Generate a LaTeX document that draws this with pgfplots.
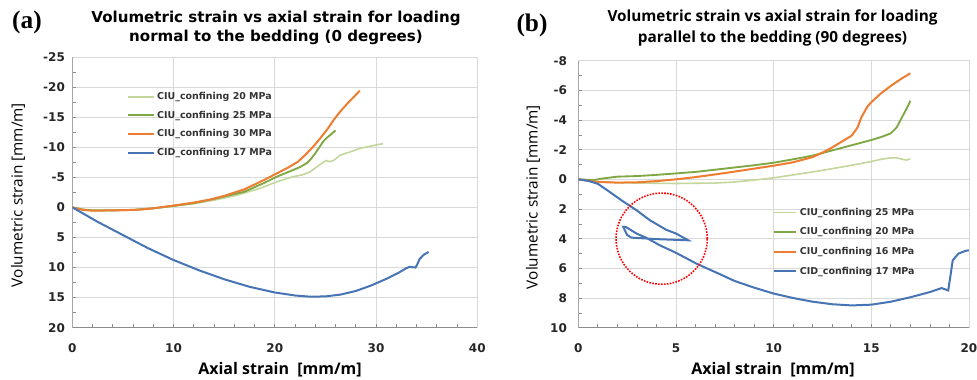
\documentclass[border=0pt]{standalone}
\usepackage{fontspec}
\setmainfont{Open Sans}
\newfontfamily\serifbf{Liberation Serif}
\newfontfamily\dejavu{DejaVu Sans}
\usepackage{pgfplots}
\pgfplotsset{compat=1.18}
\definecolor{cLG}{HTML}{C3D69B}
\definecolor{cG}{HTML}{7FA844}
\definecolor{cO}{HTML}{EE7D31}
\definecolor{cB}{HTML}{4674B4}
\definecolor{gridc}{HTML}{D9D9D9}
\definecolor{tickc}{HTML}{8C8C8C}
\pgfplotsset{
  mystyle/.style={
    scale only axis, anchor=south west, y dir=reverse,
    grid=major, major grid style={draw=gridc, line width=0.6pt},
    axis line style={draw=gridc, line width=0.6pt},
    tick align=inside, tick pos=left,
    tick style={draw=tickc, line width=0.5pt},
    major tick length=3pt, minor tick length=3pt,
    /pgf/number format/assume math mode=true,
    ticklabel style={font=\dejavu\bfseries\fontsize{9}{10}\selectfont, text=black!85},
    xticklabel style={yshift=-8.5pt},
    legend cell align=left,
    legend style={draw=none, fill=none, anchor=north west,
      font=\dejavu\bfseries\fontsize{7.1}{8}\selectfont, text=black!80,
      row sep=8pt, inner sep=0pt,
      nodes={inner sep=0pt, text height=5pt, text depth=1pt},
      /tikz/every odd column/.append style={column sep=2pt}},
  }
}
\begin{document}
\begin{tikzpicture}
\useasboundingbox (0,0) rectangle (732.75pt,284.25pt);
% panel (a)
\begin{axis}[mystyle, at={(54.2pt,38.5pt)}, width=303.75pt, height=203pt,
  xmin=0, xmax=40, ymin=-25, ymax=20,
  xtick={0,10,20,30,40}, xticklabels={0,10,20,30,40},
  ytick={-25,-20,-15,-10,-5,0,5,10,15,20},
  yticklabels={-25,-20,-15,-10,-5,0,5,10,15,20},
  yticklabel style={xshift=-2pt},
  minor x tick num=4, minor y tick num=1,
  legend style={at={(rel axis cs:0.135,0.869)}},
  legend image code/.code={\draw[#1] (0pt,0pt) -- (19pt,0pt);},
]
\addplot[cLG, line width=1.2pt] coordinates {(0,0)(1,0.35)(2,0.5)(4,0.5)(6,0.42)(8,0.2)(10,-0.2)(12,-0.6)(14,-1.2)(16,-1.9)(17,-2.4)(18.5,-3.15)(20.2,-4.25)(21.8,-5.1)(22.7,-5.4)(23.5,-5.9)(24.2,-6.8)(24.8,-7.5)(25.1,-7.8)(25.4,-7.6)(25.8,-7.8)(26.5,-8.7)(27.4,-9.2)(28.4,-9.8)(29.5,-10.2)(30.7,-10.6)};
\addlegendentry{CIU\_confining 20 MPa}
\addplot[cG, line width=1.4pt] coordinates {(0,0)(1,0.35)(2,0.5)(4,0.5)(6,0.42)(8,0.15)(10,-0.25)(12,-0.7)(14,-1.4)(16,-2.2)(17,-2.6)(19,-4.1)(20.2,-5.1)(21.5,-6.0)(22.5,-6.7)(23.2,-7.4)(23.6,-8.1)(24,-9.0)(24.45,-10.1)(24.8,-11.0)(25.1,-11.5)(25.6,-12.2)(26,-12.8)};
\addlegendentry{CIU\_confining 25 MPa}
\addplot[cO, line width=1.5pt] coordinates {(0,0)(1,0.4)(2,0.55)(4,0.5)(6,0.42)(7,0.33)(8,0.15)(10,-0.3)(12,-0.8)(13.6,-1.3)(15,-1.9)(17,-3.0)(19,-4.6)(20.2,-5.65)(21.3,-6.6)(22.3,-7.6)(23,-8.7)(23.8,-10.1)(24.5,-11.5)(25.2,-13.0)(25.8,-14.5)(26.5,-16.0)(27.3,-17.5)(28,-18.7)(28.4,-19.4)};
\addlegendentry{CIU\_confining 30 MPa}
\addplot[cB, line width=1.5pt] coordinates {(0,0)(1,0.95)(2.5,2.4)(5,4.6)(7.5,6.8)(10,8.75)(12.5,10.45)(15,11.95)(17.5,13.2)(20,14.15)(22,14.65)(23.5,14.85)(25,14.8)(26.5,14.5)(28,13.9)(29.5,13.0)(31,11.9)(32.2,10.9)(33,10.1)(33.3,9.9)(33.9,10.0)(34.1,9.4)(34.3,8.6)(34.7,7.9)(35.2,7.4)};
\addlegendentry{CID\_confining 17 MPa}
\draw[tickc, line width=0.7pt] (axis cs:0,-25) -- (axis cs:0,20) -- (axis cs:40,20);
\end{axis}
% panel (b)
\begin{axis}[mystyle, at={(433.7pt,38.5pt)}, width=293pt, height=200.25pt,
  xmin=0, xmax=20, ymin=-8, ymax=10,
  xtick={0,5,10,15,20}, xticklabels={0,5,10,15,20},
  ytick={-8,-6,-4,-2,0,2,4,6,8,10},
  yticklabels={-8,-6,-4,-2,0,2,4,6,8,10},
  yticklabel style={xshift=-5pt},
  minor x tick num=4, minor y tick num=1,
  legend style={at={(rel axis cs:0.4975,0.447)}, row sep=8.7pt},
  legend image code/.code={\draw[#1] (0pt,0pt) -- (16.7pt,0pt);},
]
\addplot[cLG, line width=1.2pt] coordinates {(0,0)(1,0.15)(2,0.22)(3,0.25)(5,0.28)(7,0.25)(8,0.18)(9,0.05)(10,-0.1)(11,-0.3)(12,-0.5)(13,-0.72)(14,-0.95)(15,-1.2)(15.5,-1.35)(16,-1.45)(16.3,-1.45)(16.6,-1.35)(16.8,-1.3)(17,-1.38)};
\addlegendentry{CIU\_confining 25 MPa}
\addplot[cG, line width=1.4pt] coordinates {(0,0)(0.8,0.05)(1.2,-0.05)(2,-0.18)(3,-0.22)(4,-0.3)(5,-0.4)(6,-0.5)(7,-0.65)(8,-0.8)(9,-0.95)(10,-1.12)(11,-1.35)(12,-1.6)(13,-1.95)(14,-2.3)(15,-2.65)(15.5,-2.85)(16,-3.1)(16.3,-3.5)(16.5,-4.0)(16.7,-4.5)(16.9,-5.0)(17,-5.3)};
\addlegendentry{CIU\_confining 20 MPa}
\addplot[cO, line width=1.5pt] coordinates {(0,0)(0.5,0.1)(1,0.18)(2,0.22)(3,0.2)(4,0.12)(5,0)(6,-0.15)(7,-0.33)(8,-0.52)(9,-0.72)(10,-0.92)(11,-1.15)(12,-1.5)(12.5,-1.8)(13,-2.15)(13.5,-2.55)(14,-2.95)(14.3,-3.5)(14.5,-4.2)(14.8,-4.9)(15,-5.2)(15.5,-5.8)(16,-6.3)(16.5,-6.75)(17,-7.15)};
\addlegendentry{CIU\_confining 16 MPa}
\addplot[cB, line width=1.5pt] coordinates {(0,0)(0.5,0.1)(1,0.3)(1.5,0.75)(2.22,1.42)(3,2.1)(3.67,2.76)(4.5,3.4)(5,3.65)(5.63,4.11)(4,4.03)(2.73,3.93)(2.5,3.75)(2.3,3.2)(2.45,3.22)(2.99,3.66)(3.5,3.95)(4.18,4.45)(5,4.95)(6.06,5.69)(7.26,6.4)(8,6.85)(9,7.3)(10,7.7)(11,8.0)(12,8.25)(13,8.42)(14,8.5)(15,8.45)(16,8.25)(17,7.95)(18,7.6)(18.6,7.33)(18.94,7.49)(19.07,6.36)(19.17,5.46)(19.46,5.01)(19.8,4.83)(20,4.78)};
\addlegendentry{CID\_confining 17 MPa}
\draw[red, densely dotted, line width=1.2pt] (axis cs:4.27,4.0) circle[radius=34.2pt];
\draw[tickc, line width=0.7pt] (axis cs:0,-8) -- (axis cs:0,10) -- (axis cs:20,10);
\end{axis}
% texts
\node[font=\serifbf\bfseries\fontsize{19}{22}\selectfont] at (20.25pt,267.75pt) {(a)};
\node[font=\serifbf\bfseries\fontsize{19}{22}\selectfont] at (399pt,265.5pt) {(b)};
\node[font=\dejavu\bfseries\fontsize{11.3}{14.25}\selectfont, align=center] at (207pt,263.6pt) {Volumetric strain vs axial strain for loading\\normal to the bedding (0 degrees)};
\node[font=\bfseries\fontsize{11.5}{15.75}\selectfont, align=center] at (579.4pt,262.9pt) {Volumetric strain vs axial strain for loading\\parallel to the bedding (90 degrees)};
\node[font=\bfseries\fontsize{12}{14}\selectfont, anchor=base] at (210pt,3.2pt) {Axial strain\ \ [mm/m]};
\node[font=\bfseries\fontsize{12}{14}\selectfont, anchor=base] at (579.75pt,3.4pt) {Axial strain\ \ [mm/m]};
\node[font=\fontsize{11.5}{12}\selectfont, rotate=90] at (13.5pt,138pt) {Volumetric strain [mm/m]};
\node[font=\fontsize{11.5}{12}\selectfont, rotate=90] at (399.75pt,136.5pt) {Volumetric strain [mm/m]};
\end{tikzpicture}
\end{document}
